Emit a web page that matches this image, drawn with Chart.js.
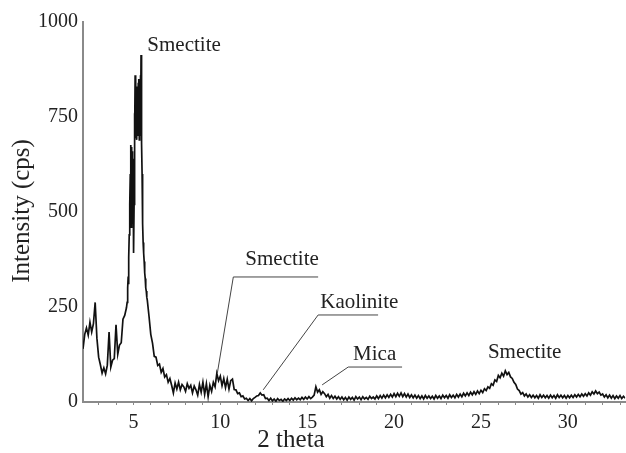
<!DOCTYPE html>
<html lang="en">
<head>
<meta charset="UTF-8" />
<title>XRD pattern</title>
<script src="https://cdn.jsdelivr.net/npm/chart.js"></script>
<style>
  html, body { margin: 0; padding: 0; background: #fff; }
  #wrap { width: 626px; height: 453px; }
</style>
</head>
<body>
<div id="wrap"><canvas id="xrd"></canvas></div>
<script>
// --- scan data (2 theta in degrees, intensity in cps) ---
// each segment is a start angle, a step and the counts read along it

const lowAngleStart = 2.1, lowAngleStep = 0.1;
const lowAngleCounts = [
  140, 178, 195, 176, 210, 184, 206, 262, 168, 118,
  98, 76, 90, 74, 97, 184, 92, 110, 114, 203,
  126, 150, 156, 218, 228, 248
];

// the big 001 smectite reflection, sampled finer
const mainPeakStart = 4.64, mainPeakStep = 0.02;
const mainPeakCounts = [
  262, 285, 300, 330, 310, 380, 440, 470, 520, 600,
  560, 676, 460, 671, 540, 660, 470, 640, 430,
  392, 520, 760, 700, 860, 720, 850, 700, 830, 690,
  820, 760, 700, 840, 720, 850, 690, 800, 740, 860,
  700, 913, 760, 680, 600, 540, 470, 420, 400, 392,
  370, 360, 340, 325, 315, 300, 292, 285, 276, 268
];

const tailStart = 5.9, tailStep = 0.1;
const tailCounts = [
  225, 178, 155, 120, 118, 96, 100, 78, 88, 66,
  72, 52, 62, 44, 24, 50, 34, 52, 32, 46,
  40, 28, 48, 36, 44, 24, 42, 32, 18, 46,
  26, 52, 20, 48, 14, 44, 28, 52, 40, 75,
  56, 68, 43, 62, 38, 60, 34, 56, 60, 33,
  32, 22, 24, 14, 16, 8, 10, 4, 9, 3,
  9, 12, 16, 17, 24, 18, 19, 9, 10, 4,
  10, 3, 8, 2, 9, 4, 7, 2, 8, 4,
  9, 4, 10, 5, 11, 6, 10, 6, 12, 7,
  13, 8, 14, 9, 13, 18, 40, 26, 32, 20,
  27
];

const highAngleStart = 16.0, highAngleStep = 0.1;
const highAngleCounts = [
  22, 14, 20, 10, 17, 9, 15, 8, 14, 7,
  13, 6, 12, 5, 13, 7, 12, 5, 14, 8,
  13, 6, 14, 8, 12, 7, 15, 9, 13, 8,
  16, 9, 17, 10, 18, 11, 19, 12, 20, 13,
  22, 14, 23, 15, 24, 14, 22, 13, 21, 12,
  19, 11, 18, 10, 17, 9, 16, 8, 17, 10,
  16, 9, 15, 8, 17, 10, 16, 9, 18, 11,
  17, 10, 19, 12, 18, 11, 20, 13, 21, 14,
  23, 16, 24, 17, 26, 19, 27, 20, 29, 22,
  31, 25, 35, 30, 40, 36, 48, 44, 58, 54,
  70, 64, 76, 68, 82, 72, 78, 66, 62, 52,
  46, 34, 30, 21, 25, 16, 21, 13, 19, 12,
  18, 11, 17, 10, 19, 12, 18, 11, 17, 10,
  18, 11, 17, 10, 19, 12, 18, 11, 17, 10,
  17, 11, 18, 12, 19, 13, 20, 14, 21, 15,
  22, 16, 24, 18, 27, 21, 29, 22, 26, 18,
  21, 13, 19, 11, 18, 10, 17, 9, 16, 10,
  17, 9, 15, 10
];

const xTickLabels = [5, 10, 15, 20, 25, 30];
const yTickLabels = [0, 250, 500, 750, 1000];

// mineral labels, some with a leader line back to their reflection
const peakLabels = [
  { text: "Smectite", x: 5.80, y: 939 },
  { text: "Smectite", x: 11.44, y: 374, from: [9.83, 76], elbow: [10.75, 329], toX: 15.63 },
  { text: "Kaolinite", x: 15.75, y: 261, from: [12.47, 32], elbow: [15.63, 229], toX: 19.08 },
  { text: "Mica", x: 17.64, y: 124, from: [15.86, 45], elbow: [17.36, 92], toX: 20.46 },
  { text: "Smectite", x: 25.40, y: 129 }
];

function segment(start, step, counts) {
  return counts.map((c, i) => ({ x: +(start + i * step).toFixed(3), y: c }));
}

const points = [
  ...segment(lowAngleStart, lowAngleStep, lowAngleCounts),
  ...segment(mainPeakStart, mainPeakStep, mainPeakCounts),
  ...segment(tailStart, tailStep, tailCounts),
  ...segment(highAngleStart, highAngleStep, highAngleCounts)
];

const SERIF = "'Liberation Serif', 'Times New Roman', serif";

const labelsPlugin = {
  id: "peakLabels",
  afterDatasetsDraw(chart) {
    const { ctx, scales: { x, y } } = chart;
    ctx.save();
    ctx.strokeStyle = "#444";
    ctx.lineWidth = 1;
    peakLabels.forEach((l) => {
      if (!l.from) return;
      ctx.beginPath();
      ctx.moveTo(x.getPixelForValue(l.from[0]), y.getPixelForValue(l.from[1]));
      ctx.lineTo(x.getPixelForValue(l.elbow[0]), y.getPixelForValue(l.elbow[1]));
      ctx.lineTo(x.getPixelForValue(l.toX), y.getPixelForValue(l.elbow[1]));
      ctx.stroke();
    });
    ctx.fillStyle = "#222";
    ctx.font = `21px ${SERIF}`;
    ctx.textAlign = "left";
    ctx.textBaseline = "middle";
    peakLabels.forEach((l) => {
      ctx.fillText(l.text, x.getPixelForValue(l.x), y.getPixelForValue(l.y));
    });

    // axis titles
    ctx.font = `25px ${SERIF}`;
    ctx.textAlign = "center";
    ctx.fillText("2 theta", 291, 440);
    ctx.translate(22, 211);
    ctx.rotate(-Math.PI / 2);
    ctx.fillText("Intensity (cps)", 0, 0);
    ctx.restore();
  }
};

new Chart(document.getElementById("xrd"), {
  type: "line",
  data: {
    datasets: [{
      data: points,
      borderColor: "#111",
      borderWidth: 1.7,
      pointRadius: 0,
      tension: 0,
      fill: false
    }]
  },
  options: {
    responsive: true,
    maintainAspectRatio: false,
    animation: false,
    layout: { padding: { top: 22, right: 0, bottom: 0, left: 0 } },
    plugins: { legend: { display: false }, tooltip: { enabled: false } },
    scales: {
      x: {
        type: "linear",
        min: 2.1,
        max: 33.3,
        afterFit: (s) => { s.height = 51; },
        border: { color: "#8a8a8a", width: 2 },
        grid: { drawOnChartArea: false, tickLength: 3, color: "#8a8a8a" },
        ticks: {
          stepSize: 1,
          includeBounds: false,
          autoSkip: false,
          maxRotation: 0,
          padding: 6,
          color: "#222",
          font: { family: SERIF, size: 20 },
          callback: (v) => (xTickLabels.includes(v) ? String(v) : "")
        }
      },
      y: {
        min: 0,
        max: 1000,
        afterFit: (s) => { s.width = 83; },
        border: { color: "#8a8a8a", width: 2 },
        grid: { drawOnChartArea: false, drawTicks: false },
        ticks: {
          stepSize: 250,
          padding: 5,
          color: "#222",
          font: { family: SERIF, size: 20 },
          callback: (v) => (yTickLabels.includes(v) ? String(v) : "")
        }
      }
    }
  },
  plugins: [labelsPlugin]
});
</script>
</body>
</html>
